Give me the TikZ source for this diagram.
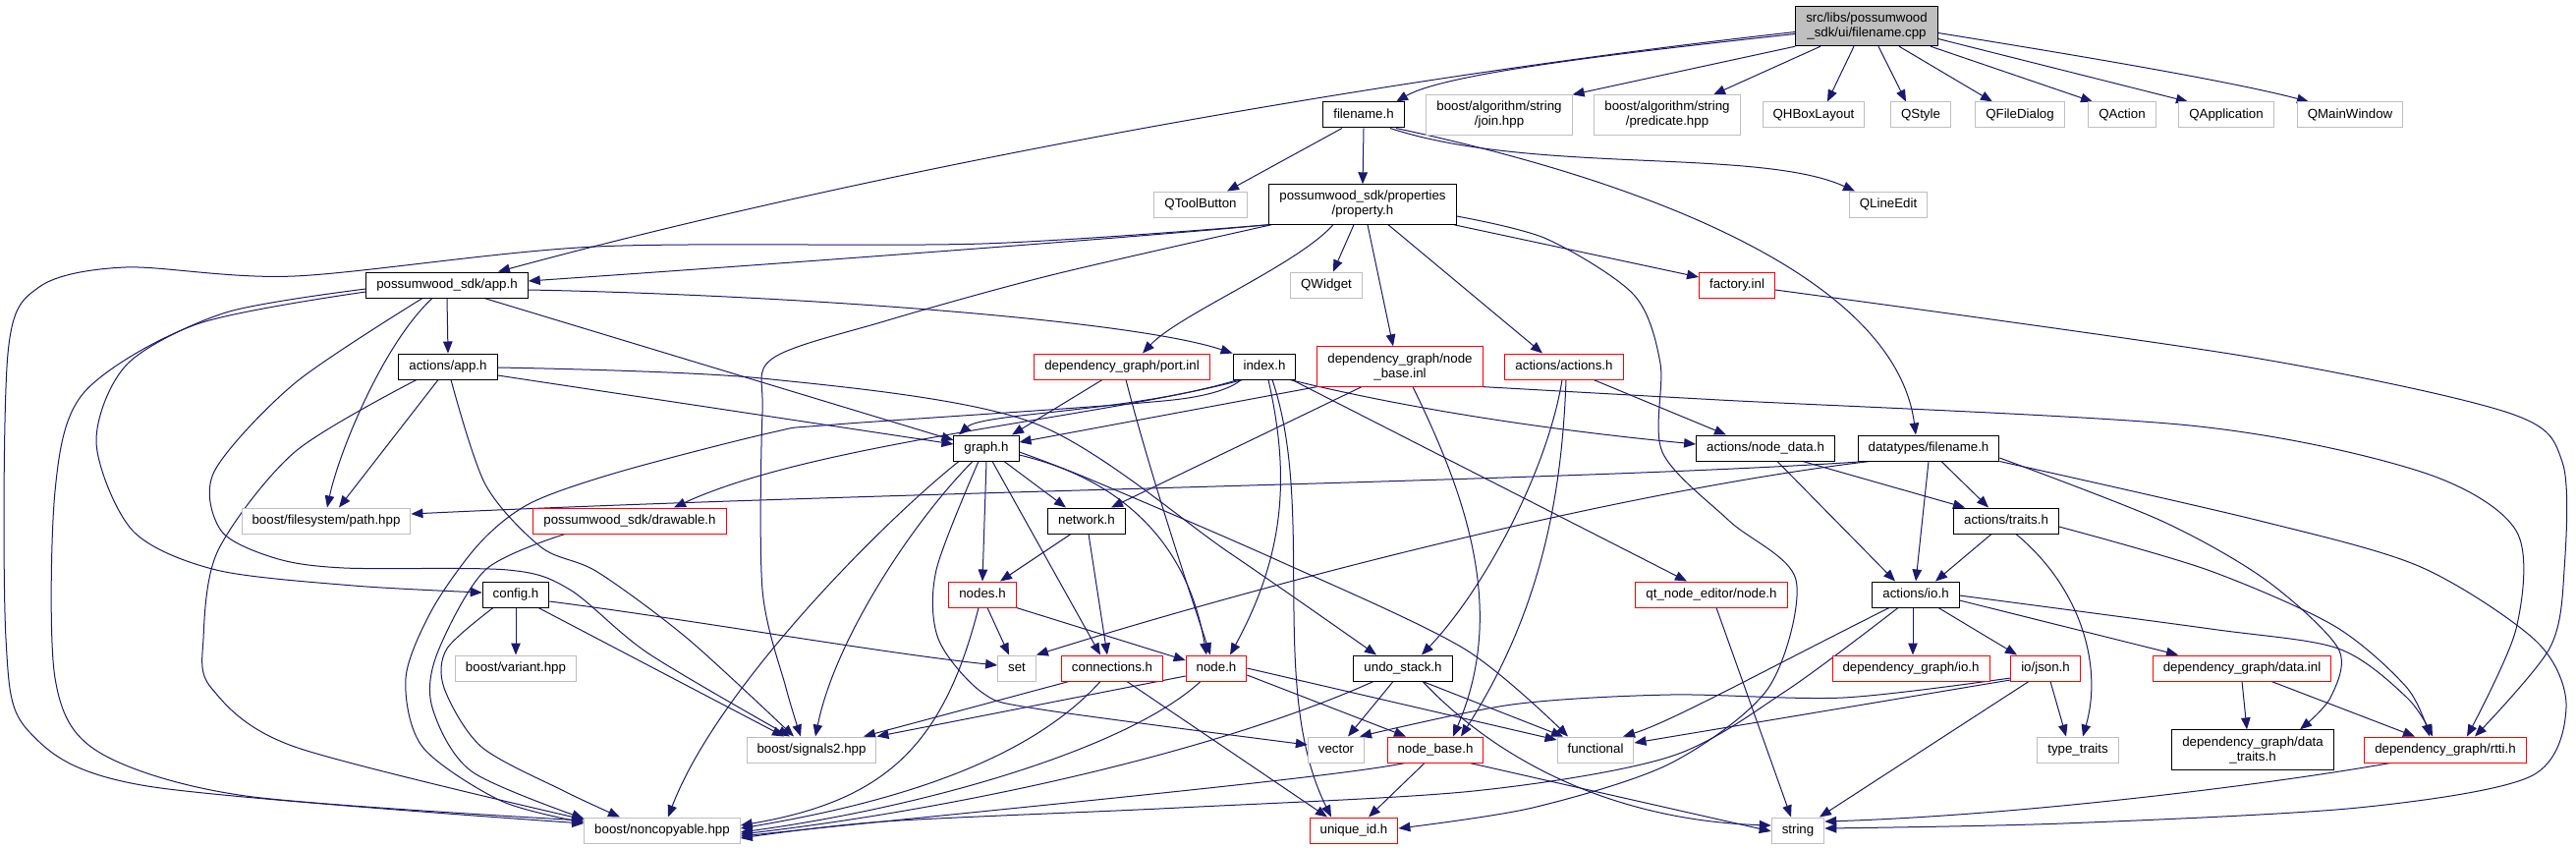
\documentclass[tikz,border=0pt]{standalone}
\usepackage{fontspec}
\setmainfont{Liberation Sans}
\usepackage{tikz}
\usetikzlibrary{arrows.meta,backgrounds}
\definecolor{DepBlue}{HTML}{191970}
\definecolor{DepGray}{HTML}{BFBFBF}
\definecolor{DepRed} {HTML}{FF0000}
\tikzset{
  filenode/.style={rectangle,draw=black,fill=white,line width=1pt,
    font=\fontsize{13.3}{15}\selectfont,inner xsep=10.5pt,inner ysep=2pt,
    minimum height=26pt,text height=9.8pt,text depth=2.9pt,align=center},
  docnode/.style={filenode},
  extnode/.style={filenode,draw=DepGray},
  cutnode/.style={filenode,draw=DepRed},
  rootnode/.style={filenode,fill=DepGray},
  twoline/.style={text height={},text depth={},inner ysep=6.5pt},
  depedge/.style={-{Triangle[length=12pt,width=9.5pt]},draw=DepBlue,
    line width=1pt},
}
\begin{document}
\begin{tikzpicture}[x=1pt,y=-1pt]
  \useasboundingbox (0,0) rectangle (2622,864);
  \node[rootnode,twoline](root)at(1900,26.5)
    {src/libs/possumwood\\\_sdk/ui/filename.cpp};
  \node[docnode](fnh)at(1388,117){filename.h};
  \node[extnode,twoline](join)at(1526,117){boost/algorithm/string\\/join.hpp};
  \node[extnode,twoline](pred)at(1697,117){boost/algorithm/string\\/predicate.hpp};
  \node[extnode](qhbox)at(1846,117){QHBoxLayout};
  \node[extnode](qstyle)at(1955,117){QStyle};
  \node[extnode](qfile)at(2056,117){QFileDialog};
  \node[extnode](qaction)at(2160,117){QAction};
  \node[extnode](qapp)at(2266,117){QApplication};
  \node[extnode](qmain)at(2392,117){QMainWindow};
  \node[extnode](qtool)at(1222,208){QToolButton};
  \node[docnode,twoline](prop)at(1387,208){possumwood\_sdk/properties\\/property.h};
  \node[extnode](qline)at(1922,208){QLineEdit};
  \node[docnode](apph)at(455,290){possumwood\_sdk/app.h};
  \node[extnode](qwidget)at(1350,290){QWidget};
  \node[cutnode](factory)at(1768,290){factory.inl};
  \node[docnode](actapp)at(456,373){actions/app.h};
  \node[cutnode](port)at(1142,373){dependency\_graph/port.inl};
  \node[docnode](index)at(1287,373){index.h};
  \node[cutnode,twoline](nbinl)at(1425,373){dependency\_graph/node\\\_base.inl};
  \node[cutnode](actions)at(1592,373){actions/actions.h};
  \node[docnode](graph)at(1004,456){graph.h};
  \node[docnode](nodedata)at(1797,456){actions/node\_data.h};
  \node[docnode](dtfname)at(1963,456){datatypes/filename.h};
  \node[extnode](fspath)at(332,530){boost/filesystem/path.hpp};
  \node[cutnode](drawable)at(641,530){possumwood\_sdk/drawable.h};
  \node[docnode](network)at(1106,530){network.h};
  \node[docnode](traits)at(2042,530){actions/traits.h};
  \node[docnode](config)at(525,605){config.h};
  \node[cutnode](nodes)at(1000,605){nodes.h};
  \node[cutnode](qtnode)at(1742,605){qt\_node\_editor/node.h};
  \node[docnode](actio)at(1950,605){actions/io.h};
  \node[extnode](variant)at(525,680){boost/variant.hpp};
  \node[extnode](stdset)at(1035,680){set};
  \node[cutnode](conn)at(1132,680){connections.h};
  \node[cutnode](nodeh)at(1238,680){node.h};
  \node[docnode](undo)at(1428,680){undo\_stack.h};
  \node[cutnode](dgio)at(1945,680){dependency\_graph/io.h};
  \node[cutnode](json)at(2082,680){io/json.h};
  \node[cutnode](datainl)at(2282,680){dependency\_graph/data.inl};
  \node[extnode](signals)at(826,763){boost/signals2.hpp};
  \node[extnode](stdvector)at(1360,763){vector};
  \node[cutnode](nodebase)at(1461,763){node\_base.h};
  \node[extnode](stdfunc)at(1624,763){functional};
  \node[extnode](stdtraits)at(2115,763){type\_traits};
  \node[docnode,twoline](datatraits)at(2293,763){dependency\_graph/data\\\_traits.h};
  \node[cutnode](rtti)at(2489,763){dependency\_graph/rtti.h};
  \node[extnode](noncopy)at(674,845){boost/noncopyable.hpp};
  \node[cutnode](uid)at(1378,845){unique\_id.h};
  \node[extnode](stdstring)at(1830,845){string};

  \begin{scope}[on background layer]
  \draw[depedge]([yshift=-8pt]root.west) .. controls (1640,55) and (1470,75) .. ([xshift=33pt]fnh.north);
  \draw[depedge]([yshift=-6pt]root.west) .. controls (1400,80) and (900,170) .. ([xshift=52pt]apph.north);
  \draw[depedge](root.south west)--(join.north east);
  \draw[depedge]([xshift=-47pt]root.south)--([xshift=47pt]pred.north);
  \draw[depedge]([xshift=-13pt]root.south)--([xshift=14pt]qhbox.north);
  \draw[depedge]([xshift=12pt]root.south)--([xshift=-15pt]qstyle.north);
  \draw[depedge]([xshift=33pt]root.south)--([xshift=-28pt]qfile.north);
  \draw[depedge]([xshift=65pt]root.south)--([xshift=-30pt]qaction.north);
  \draw[depedge]([yshift=-13pt]root.east)--([xshift=-39pt]qapp.north);
  \draw[depedge]([yshift=-7pt]root.east) .. controls (2150,62) and (2280,85) .. ([xshift=-42pt]qmain.north);

  \draw[depedge]([xshift=-22pt]fnh.south)--([xshift=27pt]qtool.north);
  \draw[depedge](fnh.south)--(prop.north);
  \draw[depedge]([xshift=27pt]fnh.south) .. controls (1560,178) and (1790,150) .. ([xshift=-34pt]qline.north);
  \draw[depedge]([xshift=33pt]fnh.south) .. controls (1700,190) and (1930,290) .. ([xshift=-13pt]dtfname.north);

  \draw[depedge](prop.south west) .. controls (1150,242) and (800,268) .. ([yshift=4pt]apph.east);
  \draw[depedge] plot[smooth] coordinates {(prop.south west) (1000,248) (606,251)
    (300,281) (128,272) (40,292) (8,360) (6,650) (30,745) (150,800) ([yshift=7pt]noncopy.west)};
  \draw[depedge]([xshift=-9pt]prop.south)--([xshift=7pt]qwidget.north);
  \draw[depedge]([xshift=-30pt]prop.south) .. controls (1320,270) and (1200,320) .. ([xshift=21pt]port.north);
  \draw[depedge]([xshift=5pt]prop.south)--([xshift=-7pt]nbinl.north);
  \draw[depedge]([xshift=26pt]prop.south)--([xshift=-22pt]actions.north);
  \draw[depedge]([xshift=-3pt]prop.south east)--([yshift=8pt]factory.west);
  \draw[depedge] plot[smooth] coordinates {([yshift=-12pt]prop.east) (1574,243) (1663,300)
    (1690,370) (1692,460) (1760,530) (1828,590) (1800,700) (1700,777) (1560,822) ([yshift=2pt]uid.east)};
  \draw[depedge] plot[smooth] coordinates {([xshift=3pt]prop.south west) (1070,280) (900,327)
    (786,365) (776,420) (776,600) (800,700) ([xshift=-11pt]signals.north)};

  \draw[depedge](apph.south)--(actapp.north);
  \draw[depedge]([yshift=-5pt]apph.east) .. controls (800,300) and (1150,325) .. (index.north west);
  \draw[depedge]([xshift=38pt]apph.south)--([yshift=8pt]graph.west);
  \draw[depedge] plot[smooth] coordinates {([yshift=-4pt]apph.west) (230,318) (130,370)
    (98,450) (135,540) (220,580) (360,596) ([yshift=2pt]config.west)};
  \draw[depedge] plot[smooth] coordinates {([yshift=-7pt]apph.west) (200,330) (85,400)
    (56,500) (56,690) (100,765) (250,810) ([yshift=10pt]noncopy.west)};
  \draw[depedge]([xshift=-15pt]apph.south) .. controls (390,350) and (345,460) .. ([xshift=1pt]fspath.north);
  \draw[depedge] plot[smooth] coordinates {([xshift=-25pt]apph.south) (300,390) (218,480)
    (225,540) (280,568) (350,578) (517,580) (580,600) (660,665) ([xshift=-22pt]signals.north)};

  \draw[depedge]([xshift=-10pt]actapp.south)--([xshift=13pt]fspath.north);
  \draw[depedge] plot[smooth] coordinates {([xshift=-32pt]actapp.south) (300,460) (222,560)
    (207,650) (215,700) (300,760) ([yshift=11pt]noncopy.west)};
  \draw[depedge] plot[smooth] coordinates {([xshift=3pt]actapp.south) (494,493) (551,557)
    (608,582) (700,650) ([xshift=-18pt]signals.north)};
  \draw[depedge]([yshift=-9pt]actapp.east)--([yshift=4pt]graph.west);
  \draw[depedge] plot[smooth] coordinates {([yshift=-1pt]actapp.east) (775,385) (1051,430)
    (1252,563) ([xshift=-27pt]undo.north)};

  \draw[depedge]([xshift=-27pt]index.south) .. controls (1150,420) and (1000,420) .. ([xshift=-28pt]graph.north);
  \draw[depedge] plot[smooth] coordinates {([xshift=-24pt]index.south) (1194,407) (850,432)
    (786,440) (631,480) (540,512) (488,553) (440,620) (413,690) (430,760) (510,815) ([yshift=8pt]noncopy.west)};
  \draw[depedge]([xshift=-22pt]index.south) .. controls (1120,425) and (830,450) .. ([xshift=45pt]drawable.north);
  \draw[depedge]([xshift=26pt]index.south) .. controls (1450,420) and (1600,440) .. ([yshift=4pt]nodedata.west);
  \draw[depedge]([xshift=4pt]index.south) .. controls (1312,480) and (1310,560) .. ([xshift=14pt]nodeh.north);
  \draw[depedge]([xshift=8pt]index.south) .. controls (1340,520) and (1290,700) .. ([xshift=-23pt]uid.north);
  \draw[depedge]([xshift=28pt]index.south)--([xshift=-25pt]qtnode.north);

  \draw[depedge]([xshift=-20pt]port.south)--([xshift=26pt]graph.north);
  \draw[depedge]([xshift=4pt]port.south) .. controls (1170,480) and (1210,600) .. ([xshift=-6pt]nodeh.north);

  \draw[depedge](nbinl.south west)--([yshift=6pt]graph.east);
  \draw[depedge]([xshift=-39pt]nbinl.south)--([xshift=25pt]network.north);
  \draw[depedge]([xshift=13pt]nbinl.south) .. controls (1490,500) and (1535,620) .. ([xshift=18pt]nodebase.north);
  \draw[depedge] plot[smooth] coordinates {(nbinl.south east) (1750,407) (2229,433)
    (2464,480) (2561,540) (2561,640) ([xshift=22pt]rtti.north)};

  \draw[depedge]([xshift=30pt]actions.south)--([xshift=-40pt]nodedata.north);
  \draw[depedge]([xshift=-2pt]actions.south) .. controls (1575,480) and (1510,600) .. ([xshift=19pt]undo.north);
  \draw[depedge]([xshift=2pt]actions.south) .. controls (1590,500) and (1570,620) .. ([xshift=26pt]nodebase.north);

  \draw[depedge]([xshift=18pt]graph.south)--([xshift=-21pt]network.north);
  \draw[depedge](graph.south)--(nodes.north);
  \draw[depedge]([xshift=6pt]graph.south)--([xshift=-12pt]conn.north);
  \draw[depedge]([yshift=-7pt]graph.east) .. controls (1150,490) and (1210,560) .. ([xshift=-10pt]nodeh.north);
  \draw[depedge] plot[smooth] coordinates {([xshift=-8pt]graph.south) (953,580) (955,650)
    (1000,705) (1060,722) ([yshift=5pt]stdvector.west)};
  \draw[depedge] plot[smooth] coordinates {([yshift=-4pt]graph.east) (1110,488) (1300,570)
    (1490,660) ([xshift=-28pt]stdfunc.north)};
  \draw[depedge]([xshift=-14pt]graph.south) .. controls (930,530) and (850,650) .. ([xshift=4pt]signals.north);
  \draw[depedge]([xshift=-28pt]graph.south) .. controls (900,530) and (730,700) .. ([xshift=6pt]noncopy.north);

  \draw[depedge]([xshift=-16pt]network.south)--([xshift=18pt]nodes.north);
  \draw[depedge]([xshift=2pt]network.south)--([xshift=-5pt]conn.north);

  \draw[depedge]([xshift=5pt]nodes.south)--([xshift=-8pt]stdset.north);
  \draw[depedge](nodes.south east)--([yshift=8pt]nodeh.west);
  \draw[depedge]([xshift=-4pt]nodes.south) .. controls (960,760) and (900,815) .. ([yshift=5pt]noncopy.east);

  \draw[depedge](config.south)--(variant.north);
  \draw[depedge]([xshift=23pt]config.south)--([xshift=-28pt]signals.north);
  \draw[depedge] plot[smooth] coordinates {([xshift=-23pt]config.south) (455,660) (452,700)
    (490,760) (574,805) ([xshift=-43pt]noncopy.north)};
  \draw[depedge]([yshift=-7pt]config.east) .. controls (700,630) and (900,665) .. ([yshift=3pt]stdset.west);

  \draw[depedge] plot[smooth] coordinates {([xshift=-66pt]drawable.south) (494,580) (445,665)
    (440,720) (480,785) ([yshift=12pt]noncopy.west)};

  \draw[depedge]([xshift=-44pt]conn.south)--([xshift=53pt]signals.north);
  \draw[depedge]([xshift=-12pt]conn.south) .. controls (1060,760) and (950,810) .. ([yshift=2pt]noncopy.east);
  \draw[depedge]([xshift=15pt]conn.south)--([xshift=-27pt]uid.north);

  \draw[depedge]([yshift=-8pt]nodeh.west)--(signals.north east);
  \draw[depedge]([xshift=-16pt]nodeh.south) .. controls (1150,760) and (950,820) .. ([yshift=-2pt]noncopy.east);
  \draw[depedge]([yshift=-7pt]nodeh.east)--([xshift=-30pt]nodebase.north);
  \draw[depedge](nodeh.east)--([yshift=10pt]stdfunc.west);

  \draw[depedge]([xshift=-30pt]undo.south) .. controls (1250,760) and (1000,820) .. ([yshift=-4pt]noncopy.east);
  \draw[depedge]([xshift=-10pt]undo.south)--([xshift=12pt]stdvector.north);
  \draw[depedge]([xshift=20pt]undo.south)--([xshift=-33pt]stdfunc.north);
  \draw[depedge]([xshift=20pt]undo.south) .. controls (1530,780) and (1650,835) .. ([yshift=5pt]stdstring.west);

  \draw[depedge]([xshift=-31pt]nodebase.south) .. controls (1355,792) and (1000,825) .. ([yshift=-6pt]noncopy.east);
  \draw[depedge]([xshift=-11pt]nodebase.south)--([xshift=15pt]uid.north);
  \draw[depedge]([xshift=35pt]nodebase.south)--([yshift=-1pt]stdstring.west);

  \draw[depedge]([xshift=5pt]qtnode.south)--([xshift=-7pt]stdstring.north);

  \draw[depedge]([xshift=-3pt]actio.south)--([xshift=2pt]dgio.north);
  \draw[depedge]([xshift=23pt]actio.south)--([xshift=-29pt]json.north);
  \draw[depedge]([yshift=-6pt]actio.east)--([xshift=-65pt]datainl.north);
  \draw[depedge] plot[smooth] coordinates {([yshift=-1pt]actio.east) (2250,640) (2380,660)
    (2450,710) ([xshift=-13pt]rtti.north)};
  \draw[depedge]([xshift=-27pt]actio.south) .. controls (1800,680) and (1700,735) .. ([xshift=28pt]stdfunc.north);
  \draw[depedge] plot[smooth] coordinates {([xshift=-18pt]actio.south) (1818,703) (1700,770)
    (1500,805) (1200,822) (900,836) ([yshift=-8pt]noncopy.east)};

  \draw[depedge] plot[smooth] coordinates {([yshift=-10pt]json.west) (1876,710) (1700,707)
    (1539,717) ([xshift=24pt]stdvector.north)};
  \draw[depedge]([yshift=-12pt]json.west)--([yshift=7pt]stdfunc.east);
  \draw[depedge]([xshift=-17pt]json.south)--([xshift=22pt]stdstring.north);
  \draw[depedge]([xshift=5pt]json.south)--([xshift=-12pt]stdtraits.north);

  \draw[depedge](datainl.south)--([xshift=-6pt]datatraits.north);
  \draw[depedge]([xshift=30pt]datainl.south)--([xshift=-31pt]rtti.north);

  \draw[depedge]([xshift=-56pt]rtti.south) .. controls (2300,800) and (2050,830) .. ([yshift=9pt]stdstring.east);

  \draw[depedge]([xshift=-15pt]traits.south)--([xshift=20pt]actio.north);
  \draw[depedge]([xshift=10pt]traits.south) .. controls (2120,600) and (2140,680) .. ([xshift=5pt]stdtraits.north);
  \draw[depedge] plot[smooth] coordinates {([yshift=-6pt]traits.east) (2247,580) (2376,637)
    (2450,700) ([xshift=-16pt]rtti.north)};

  \draw[depedge]([xshift=12pt]nodedata.south)--([xshift=-21pt]actio.north);
  \draw[depedge]([xshift=38pt]nodedata.south)--([xshift=-42pt]traits.north);

  \draw[depedge]([xshift=-63pt]dtfname.south) .. controls (1600,490) and (900,500) .. ([yshift=7pt]fspath.east);
  \draw[depedge]([xshift=-60pt]dtfname.south) .. controls (1650,500) and (1300,590) .. (stdset.north east);
  \draw[depedge](dtfname.south)--(actio.north);
  \draw[depedge]([xshift=13pt]dtfname.south)--([xshift=-18pt]traits.north);
  \draw[depedge] plot[smooth] coordinates {([yshift=-10pt]dtfname.east) (2200,530) (2306,590)
    (2380,660) (2372,710) ([xshift=48pt]datatraits.north)};
  \draw[depedge] plot[smooth] coordinates {(dtfname.south east) (2300,530) (2464,577)
    (2582,653) (2612,720) (2576,790) (2400,822) (2100,838) ([yshift=2pt]stdstring.east)};

  \draw[depedge] plot[smooth] coordinates {([yshift=-5pt]factory.east) (2288,363) (2553,420)
    (2608,470) (2610,580) (2595,660) ([xshift=30pt]rtti.north)};
  \end{scope}
\end{tikzpicture}
\end{document}
